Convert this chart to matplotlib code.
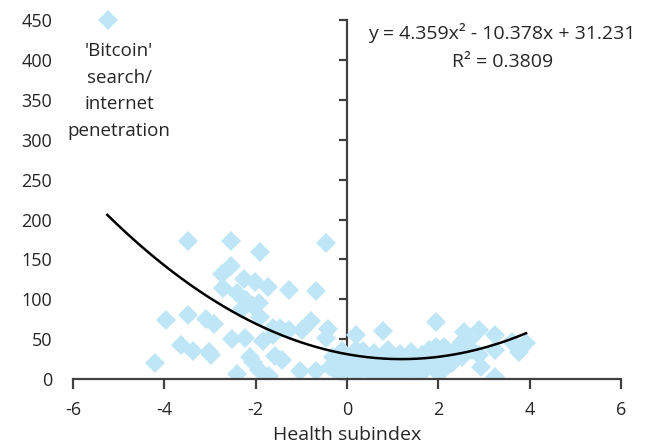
import matplotlib
matplotlib.use("Agg")
import matplotlib.pyplot as plt
from matplotlib.lines import Line2D
import numpy as np

plt.rcParams["font.family"] = ["Open Sans", "DejaVu Sans"]

# Health subindex vs 'Bitcoin' search / internet penetration
health = [
    -4.21, -3.97, -3.64, -3.49, -3.49, -3.38, -3.09, -3.02, -2.98, -2.91,
    -2.73, -2.71, -2.55, -2.53, -2.52, -2.41, -2.40, -2.30, -2.25, -2.23,
    -2.22, -2.12, -2.07, -2.05, -2.02, -1.93, -1.93, -1.91, -1.90, -1.83,
    -1.72, -1.71, -1.63, -1.63, -1.58, -1.47, -1.42, -1.27, -1.27, -1.04,
    -0.98, -0.78, -0.69, -0.67, -0.47, -0.45, -0.41, -0.38, -0.30, -0.20,
    -0.15, -0.14, -0.10, -0.05,
    0.05, 0.10, 0.15, 0.19, 0.20, 0.20, 0.25, 0.30, 0.35, 0.40,
    0.45, 0.50, 0.55, 0.60, 0.60, 0.65, 0.70, 0.75, 0.79, 0.80,
    0.85, 0.90, 0.90, 0.95, 1.00, 1.05, 1.10, 1.15, 1.20, 1.20,
    1.25, 1.30, 1.35, 1.40, 1.45, 1.50, 1.55, 1.60, 1.60, 1.65,
    1.70, 1.75, 1.80, 1.85, 1.90, 1.90, 1.94, 1.95, 2.00, 2.05,
    2.09, 2.12, 2.20, 2.30, 2.38, 2.52, 2.52, 2.56, 2.67, 2.74,
    2.89, 2.89, 2.93, 3.24, 3.25, 3.25, 3.62, 3.76, 3.91,
]
bitcoin = [
    20, 74, 43, 173, 80, 35, 75, 34, 30, 69,
    132, 114, 142, 173, 50, 108, 7, 88, 125, 52,
    99, 28, 21, 92, 122, 95, 11, 159, 78, 48,
    115, 4, 64, 55, 29, 64, 24, 112, 61, 10,
    61, 73, 111, 10, 51, 170, 63, 15, 28, 12,
    5, 20, 35, 18,
    22, 12, 30, 36, 55, 18, 8, 25, 35, 14,
    28, 20, 6, 33, 8, 16, 24, 10, 60, 30,
    19, 36, 4, 12, 26, 5, 20, 32, 15, 4,
    27, 9, 22, 34, 13, 25, 6, 18, 6, 30,
    11, 23, 37, 16, 20, 28, 40, 71, 8, 24,
    11, 40, 32, 20, 38, 28, 47, 59, 49, 36,
    61, 30, 15, 3, 55, 36, 47, 34, 45,
]

# polynomial trendline reported on the chart
trend_coef = [4.359, -10.378, 31.231]
trend_range = [-5.25, 3.92]
r_squared = 0.3809

x_ticks = [-6, -4, -2, 0, 2, 4, 6]
y_ticks = [0, 50, 100, 150, 200, 250, 300, 350, 400, 450]

point_color = "#BFE6F7"
axis_color = "#404040"
text_color = "#262626"

fig = plt.figure(figsize=(6.49, 4.46), dpi=100)
ax = fig.add_axes([0.1125, 0.150, 0.8445, 0.805])

ax.plot(health, bitcoin, linestyle="none", marker="D", markersize=10,
        color=point_color, markeredgewidth=0, zorder=2)

xs = np.linspace(trend_range[0], trend_range[1], 200)
ax.plot(xs, np.polyval(trend_coef, xs), color="black", linewidth=1.8, zorder=3)

ax.set_xlim(-6, 6)
ax.set_ylim(0, 450)
ax.set_xticks(x_ticks)
ax.set_yticks(y_ticks)
ax.set_xticklabels([str(t) for t in x_ticks])

for side in ("top", "right", "left"):
    ax.spines[side].set_visible(False)
ax.spines["bottom"].set_color(axis_color)
ax.spines["bottom"].set_linewidth(1.6)
ax.tick_params(axis="x", direction="out", length=7, width=1.6,
               color=axis_color, labelsize=13, labelcolor=text_color, pad=9)
ax.tick_params(axis="y", length=0, labelsize=13, labelcolor=text_color, pad=15)

# vertical axis line crossing at x = 0 with tick marks, labels stay on the left
sec = ax.secondary_yaxis(0.5)
sec.set_yticks(y_ticks)
sec.set_yticklabels([])
sec.yaxis.set_ticks_position("left")
for sp in sec.spines.values():
    sp.set_color(axis_color)
    sp.set_linewidth(1.6)
sec.spines["right"].set_visible(False)
sec.spines["left"].set_visible(True)
sec.tick_params(axis="y", direction="out", length=6, width=1.6, color=axis_color)

ax.set_xlabel("Health subindex", fontsize=14, color=text_color, labelpad=5)

handle = Line2D([], [], linestyle="none", marker="D", markersize=10,
                color=point_color, markeredgewidth=0)
ax.legend([handle], [""], loc="center", bbox_to_anchor=(0.064, 0.997),
          frameon=False, handlelength=1, handletextpad=0, borderpad=0)
ax.text(0.084, 0.938, "'Bitcoin'\nsearch/\ninternet\npenetration",
        transform=ax.transAxes, ha="center", va="top", fontsize=13.5,
        color=text_color, linespacing=1.6)

a, b, c = trend_coef
eq = f"y = {a}x² - {abs(b)}x + {c}\nR² = {r_squared}"
ax.text(0.783, 0.993, eq, transform=ax.transAxes, ha="center", va="top",
        fontsize=14, color=text_color, linespacing=1.75)

fig.savefig("out.png", dpi=100)
